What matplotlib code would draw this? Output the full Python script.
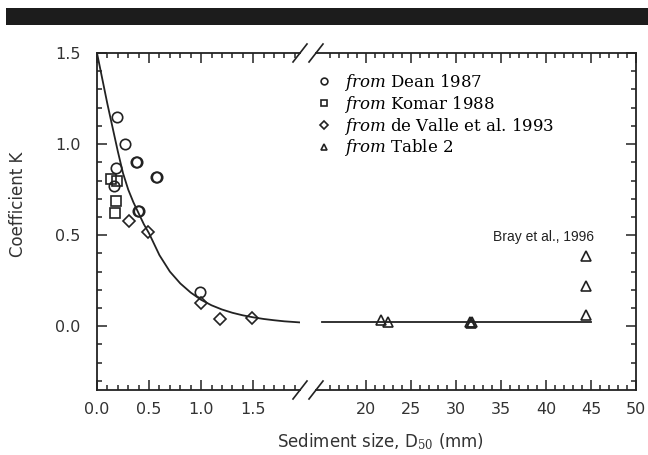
import numpy as np
import matplotlib
matplotlib.use("Agg")
from matplotlib import pyplot as plt
from matplotlib.lines import Line2D
from matplotlib.patches import Rectangle
from matplotlib.ticker import FixedLocator, MultipleLocator, FormatStrFormatter

plt.rcParams['mathtext.fontset'] = 'dejavuserif'

# data
dean_x = [0.19, 0.27, 0.37, 0.38, 0.18, 0.57, 0.58, 0.16, 0.39, 0.40, 0.99]
dean_y = [1.15, 1.00, 0.90, 0.90, 0.87, 0.82, 0.82, 0.77, 0.63, 0.63, 0.19]

komar_x = [0.13, 0.19, 0.18, 0.17]
komar_y = [0.81, 0.80, 0.69, 0.62]

valle_x = [0.31, 0.49, 1.00, 1.18, 1.49]
valle_y = [0.58, 0.52, 0.13, 0.04, 0.045]

table_x = [21.7, 22.4, 31.6, 31.7, 31.8, 44.5, 44.5, 44.5]
table_y = [0.035, 0.025, 0.022, 0.02, 0.022, 0.385, 0.22, 0.064]

# fitted curve, read at points along the line
fit_x = [0.00, 0.05, 0.10, 0.15, 0.20, 0.25, 0.30, 0.35, 0.40, 0.45, 0.50,
         0.60, 0.70, 0.80, 0.90, 1.00, 1.10, 1.20, 1.30, 1.40, 1.50,
         1.60, 1.70, 1.80, 1.95]
fit_y = [1.50, 1.36, 1.22, 1.09, 0.96, 0.84, 0.75, 0.68, 0.62, 0.56, 0.51,
         0.39, 0.30, 0.235, 0.185, 0.145, 0.115, 0.092, 0.074, 0.060, 0.049,
         0.040, 0.033, 0.027, 0.021]
fit2_x = [15.1, 45.0]
fit2_y = [0.021, 0.021]

labels = [r"$\mathit{from}$ Dean 1987", r"$\mathit{from}$ Komar 1988",
          r"$\mathit{from}$ de Valle et al. 1993", r"$\mathit{from}$ Table 2"]

ink = '#222222'
W, H = 648, 455

def fx(px):
    return px / W

def fy(py):
    return 1 - py / H

fig = plt.figure(figsize=(6.48, 4.55), dpi=100)

# black band on top
fig.add_artist(Rectangle((fx(6), fy(25)), 1 - fx(6), fy(8) - fy(25),
                         transform=fig.transFigure, color='#1c1c1c', lw=0))

ax1 = fig.add_axes([fx(97), fy(390), fx(300) - fx(97), fy(53) - fy(390)])
ax2 = fig.add_axes([fx(316), fy(390), fx(636) - fx(316), fy(53) - fy(390)], sharey=ax1)

mk = dict(ls='none', mfc='none', mec=ink, mew=1.2)
h1, = ax1.plot(dean_x, dean_y, marker='o', ms=7.5, **mk)
h2, = ax1.plot(komar_x, komar_y, marker='s', ms=6.5, **mk)
h3, = ax1.plot(valle_x, valle_y, marker='D', ms=6.5, **mk)
h4, = ax2.plot(table_x, table_y, marker='^', ms=6.5, **mk)
ax1.plot(fit_x, fit_y, color=ink, lw=1.3)
ax2.plot(fit2_x, fit2_y, color=ink, lw=1.3)

ax1.set_xlim(0, 1.95)
ax2.set_xlim(14.45, 50)
ax1.set_ylim(-0.35, 1.5)

for ax in (ax1, ax2):
    for s in ax.spines.values():
        s.set_linewidth(1.3)
        s.set_color(ink)
    ax.tick_params(which='both', direction='in', color=ink, width=1.1,
                   labelsize=11.5, labelcolor='#333333', top=True)
    ax.tick_params(which='major', length=7, pad=9)
    ax.tick_params(which='minor', length=3.5)

ax1.spines['right'].set_visible(False)
ax2.spines['left'].set_visible(False)
ax1.tick_params(which='both', right=False)
ax2.tick_params(which='both', left=False, labelleft=False, right=True)
ax1.tick_params(axis='y', pad=12)

ax1.xaxis.set_major_locator(MultipleLocator(0.5))
ax1.xaxis.set_minor_locator(MultipleLocator(0.1))
ax1.xaxis.set_major_formatter(FormatStrFormatter('%.1f'))
ax1.yaxis.set_major_locator(MultipleLocator(0.5))
ax1.yaxis.set_minor_locator(MultipleLocator(0.1))
ax1.yaxis.set_major_formatter(FormatStrFormatter('%.1f'))
ax2.xaxis.set_major_locator(FixedLocator([20, 25, 30, 35, 40, 45, 50]))
ax2.xaxis.set_minor_locator(FixedLocator([v for v in range(16, 50) if v % 5]))

# break marks
for x in (300, 316):
    for y in (53, 390):
        fig.add_artist(Line2D([fx(x - 7), fx(x + 7)], [fy(y + 9), fy(y - 9)],
                              transform=fig.transFigure, color=ink, lw=1.2))

ax2.text(45.3, 0.49, "Bray et al., 1996", ha='right', va='center',
         fontsize=10, family='Liberation Sans', color='#222222')

fig.legend([h1, h2, h3, h4], labels, loc='upper left',
           bbox_to_anchor=(fx(316), fy(72)), frameon=False,
           prop={'family': 'DejaVu Serif', 'size': 12}, markerscale=0.65,
           handlelength=1.0, handletextpad=0.7, labelspacing=0.05,
           borderpad=0, borderaxespad=0)

fig.text(fx(380), fy(442), r"Sediment size, D$_{50}$ (mm)", ha='center',
         va='center', fontsize=12, color='#333333')
fig.text(fx(18), fy(204), "Coefficient K", rotation=90, ha='center',
         va='center', fontsize=12, color='#333333')

fig.savefig("out.png", dpi=100)
